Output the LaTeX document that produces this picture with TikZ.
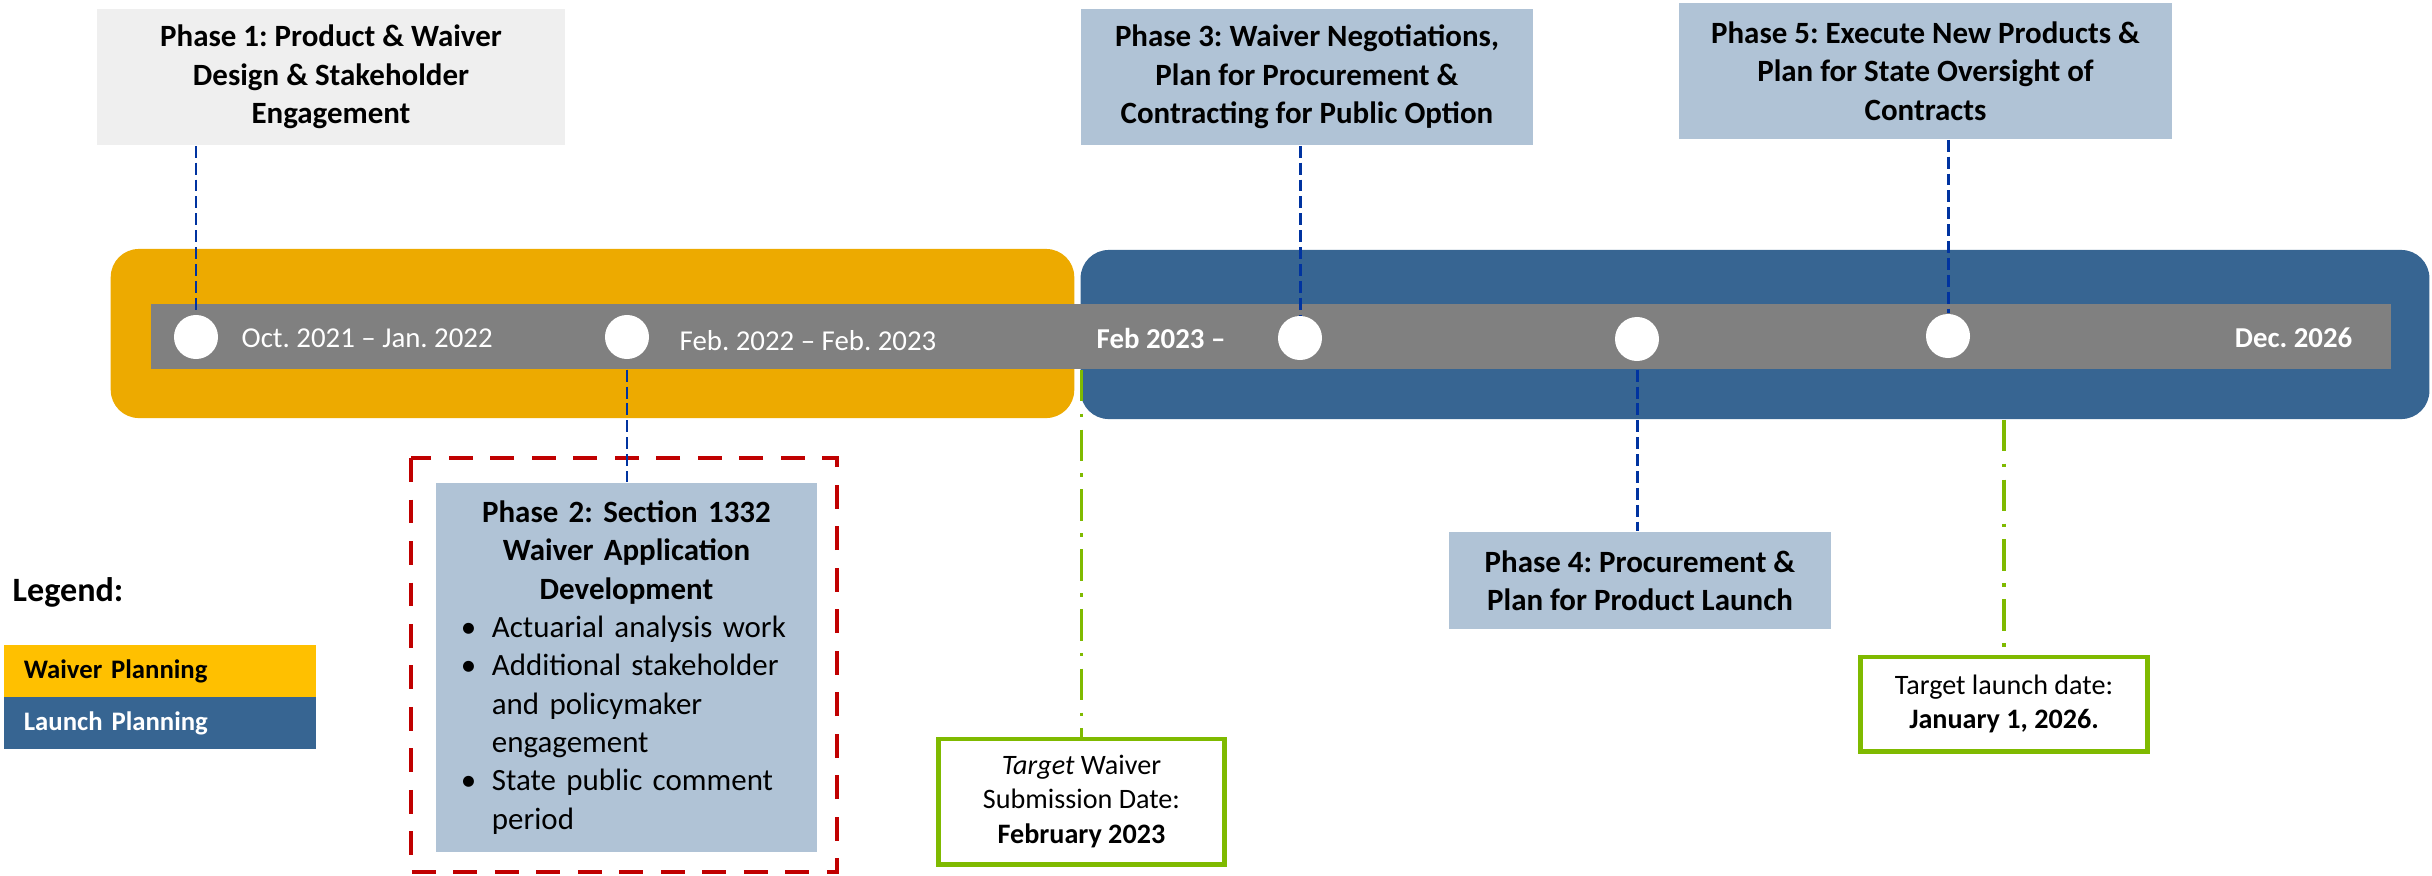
\documentclass[tikz,border=0pt]{standalone}
\usepackage{fontspec}
\setmainfont{Carlito}
\frenchspacing
\definecolor{waivergold}{RGB}{237,170,0}
\definecolor{legendgold}{RGB}{255,192,0}
\definecolor{launchblue}{RGB}{55,101,146}
\definecolor{phaseblue}{RGB}{176,195,214}
\definecolor{phasegray}{RGB}{239,239,239}
\definecolor{linkblue}{RGB}{0,51,160}
\definecolor{targetgreen}{RGB}{127,186,0}
\definecolor{framered}{RGB}{192,0,0}
\newcommand{\bitem}[1]{\par\noindent\hspace*{0.25cm}\makebox[0.31cm][l]{\textbullet}#1}
\newcommand{\bcont}[1]{\par\noindent\hspace*{0.56cm}#1}
\begin{document}
\begin{tikzpicture}[x=0.01cm,y=-0.01cm,
    band/.style={rounded corners=8pt,inner sep=0pt,minimum height=1.69cm},
    phase/.style={fill=phaseblue,align=center,inner sep=0pt,font=\fontsize{8.8pt}{10.9pt}\selectfont\bfseries},
    dot/.style={circle,fill=white,inner sep=0pt,minimum size=0.44cm},
    datelabel/.style={text=white,inner sep=0pt,font=\fontsize{8.2pt}{10pt}\selectfont},
    phaselink/.style={linkblue,line width=0.85pt,dash pattern=on 3.4pt off 1.4pt},
    targetlink/.style={targetgreen,line width=1pt,dash pattern=on 9pt off 3.5pt on 1pt off 3.5pt},
    target/.style={draw=targetgreen,line width=1.4pt,fill=white,align=center,inner sep=0pt,font=\fontsize{8pt}{9.7pt}\selectfont},
    legendbox/.style={minimum height=0.52cm,inner xsep=0.2cm,inner ysep=0pt,text width=2.72cm,align=left,font=\fontsize{7.6pt}{9pt}\selectfont\bfseries}]
    \useasboundingbox (0,0) rectangle (2432,875);

    \node[band,fill=waivergold,minimum width=9.63cm] (waiver) at (592.5,333.5) {};
    \node[band,fill=launchblue,minimum width=13.48cm] (launch) at (1755,334.5) {};
    \node[fill=gray,inner sep=0pt,minimum width=22.38cm,minimum height=0.65cm] (bar) at (1271,336.5) {};

    \node[dot] (d1) at (196,337) {};
    \node[dot] (d2) at (627,337) {};
    \node[dot] (d3) at (1300,338) {};
    \node[dot] (d4) at (1637,339) {};
    \node[dot] (d5) at (1948,336) {};

    \node[datelabel,anchor=west] (l1) at (241,338) {Oct. 2021 -- Jan. 2022};
    \node[datelabel,anchor=west] (l2) at (679,341) {Feb. 2022 -- Feb. 2023};
    \node[datelabel,anchor=west] (l3) at (1096,338) {\bfseries Feb 2023 --};
    \node[datelabel,anchor=east] (l4) at (2353,338) {\bfseries Dec. 2026};

    \node[phase,fill=phasegray,minimum width=4.68cm,minimum height=1.36cm] (ph1) at (331,77)
        {Phase 1: Product \& Waiver\\Design \& Stakeholder\\Engagement};
    \node[phase,minimum width=4.52cm,minimum height=1.36cm] (ph3) at (1307,77)
        {Phase 3: Waiver Negotiations,\\Plan for Procurement \&\\Contracting for Public Option};
    \node[phase,minimum width=4.93cm,minimum height=1.36cm] (ph5) at (1925.5,71)
        {Phase 5: Execute New Products \&\\Plan for State Oversight of\\Contracts};
    \node[phase,minimum width=3.82cm,minimum height=0.97cm] (ph4) at (1640,580.5)
        {Phase 4: Procurement \&\\Plan for Product Launch};
    \node[fill=phaseblue,inner sep=0pt,text width=3.81cm,minimum height=3.69cm,
        font=\fontsize{8.8pt}{10.9pt}\selectfont] (ph2) at (626.5,667.5)
        {{\centering\bfseries Phase 2: Section 1332\\Waiver Application\\Development\par}
        \bitem{Actuarial analysis work}
        \bitem{Additional stakeholder}
        \bcont{and policymaker}
        \bcont{engagement}
        \bitem{State public comment}
        \bcont{period}\par};
    \draw[framered,line width=1.4pt,dash pattern=on 6.8pt off 5pt] (411,458) rectangle (837,872);

    \node[target,minimum width=2.85cm,minimum height=1.25cm] (t1) at (1081.5,801.5)
        {\textit{Target} Waiver\\Submission Date:\\\textbf{February 2023}};
    \node[target,minimum width=2.86cm,minimum height=0.94cm] (t2) at (2004,704)
        {Target launch date:\\\textbf{January 1, 2026.}};

    \draw[phaselink] (ph1.south -| d1) -- (d1.north);
    \draw[phaselink] (ph3.south -| d3) -- (d3.north);
    \draw[phaselink] (ph5.south -| d5) -- (d5.north);
    \draw[phaselink] (bar.south -| d2) -- (ph2.north -| d2);
    \draw[phaselink] (bar.south -| d4) -- (ph4.north -| d4);
    \draw[targetlink] (bar.south -| t1.north) -- (t1.north);
    \draw[targetlink] (launch.south -| t2.north) -- (t2.north);

    \node[anchor=west,inner sep=0pt,font=\fontsize{9.7pt}{12pt}\selectfont\bfseries] (legend) at (12,592) {Legend:};
    \node[legendbox,fill=legendgold] (lw) at (160,671) {Waiver Planning};
    \node[legendbox,fill=launchblue,text=white] (ll) at (160,723) {Launch Planning};
\end{tikzpicture}
\end{document}
